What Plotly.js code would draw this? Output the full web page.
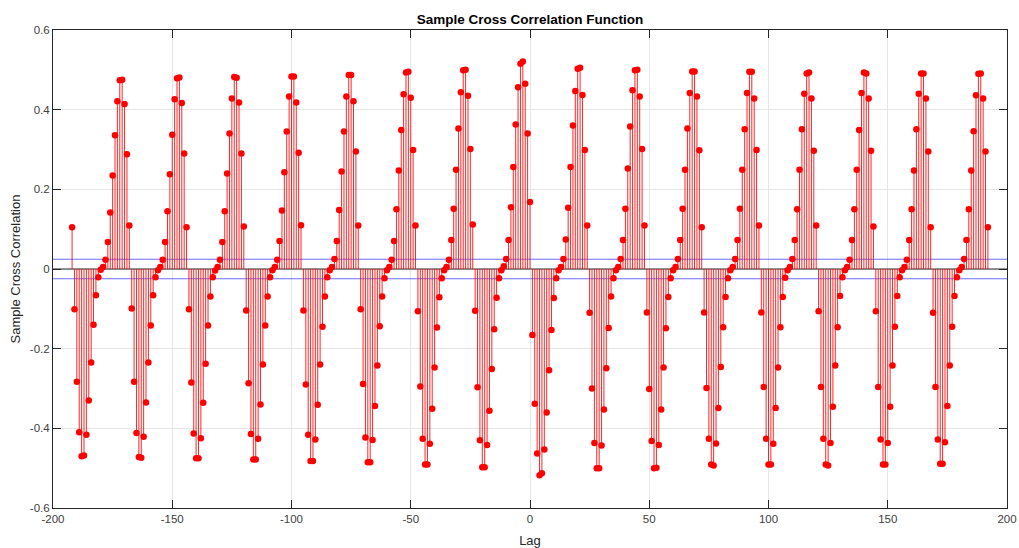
<!DOCTYPE html>
<html>
<head>
<meta charset="utf-8">
<script src="https://cdn.plot.ly/plotly-3.0.1.min.js"></script>
<style>
  html, body { margin: 0; padding: 0; background: #ffffff; }
  #chart { width: 1019px; height: 548px; }
</style>
</head>
<body>
<div id="chart"></div>
<script>
// First lag shown and the sample cross-correlation values,
// one array per 24-lag cycle (cycle A starts at lag -192).
const firstLag = -192;
const cycleA = [0.105, -0.101, -0.283, -0.410, -0.470, -0.468, -0.416, -0.330, -0.235, -0.140, -0.066, -0.021, -0.002, 0.005, 0.023, 0.068, 0.142, 0.235, 0.336, 0.421, 0.474, 0.475, 0.414, 0.288];
const cycleB = [0.109, -0.099, -0.283, -0.412, -0.472, -0.474, -0.421, -0.335, -0.235, -0.142, -0.066, -0.021, -0.003, 0.005, 0.023, 0.068, 0.145, 0.238, 0.337, 0.426, 0.479, 0.481, 0.417, 0.290];
const cycleC = [0.105, -0.101, -0.285, -0.413, -0.475, -0.475, -0.425, -0.336, -0.238, -0.142, -0.069, -0.021, -0.004, 0.005, 0.023, 0.068, 0.145, 0.240, 0.340, 0.428, 0.482, 0.480, 0.418, 0.290];
const cycleD = [0.107, -0.104, -0.287, -0.414, -0.478, -0.478, -0.426, -0.340, -0.240, -0.142, -0.069, -0.021, -0.003, 0.005, 0.023, 0.070, 0.147, 0.243, 0.345, 0.433, 0.483, 0.483, 0.418, 0.292];
const cycleE = [0.110, -0.104, -0.290, -0.416, -0.482, -0.482, -0.428, -0.341, -0.240, -0.145, -0.069, -0.021, -0.003, 0.005, 0.025, 0.070, 0.148, 0.245, 0.345, 0.433, 0.487, 0.487, 0.421, 0.295];
const cycleF = [0.109, -0.101, -0.289, -0.423, -0.485, -0.485, -0.429, -0.344, -0.242, -0.144, -0.069, -0.023, -0.003, 0.005, 0.023, 0.070, 0.150, 0.247, 0.349, 0.439, 0.493, 0.495, 0.430, 0.299];
const cycleG = [0.109, -0.106, -0.295, -0.426, -0.491, -0.491, -0.439, -0.351, -0.247, -0.147, -0.071, -0.023, -0.003, 0.005, 0.023, 0.073, 0.151, 0.249, 0.353, 0.444, 0.499, 0.500, 0.435, 0.301];
const cycleH = [0.112, -0.105, -0.297, -0.430, -0.498, -0.498, -0.442, -0.356, -0.251, -0.151, -0.072, -0.023, -0.003, 0.007, 0.025, 0.073, 0.155, 0.256, 0.363, 0.456, 0.515, 0.521, 0.465, 0.340];
const cycleI = [0.168, -0.166, -0.338, -0.463, -0.518, -0.513, -0.453, -0.360, -0.254, -0.153, -0.073, -0.023, -0.003, 0.005, 0.025, 0.074, 0.154, 0.256, 0.360, 0.447, 0.503, 0.505, 0.437, 0.299];
const cycleJ = [0.109, -0.110, -0.300, -0.437, -0.500, -0.500, -0.443, -0.353, -0.249, -0.148, -0.069, -0.023, -0.003, 0.005, 0.025, 0.073, 0.151, 0.252, 0.358, 0.449, 0.499, 0.500, 0.433, 0.301];
const cycleK = [0.109, -0.109, -0.301, -0.432, -0.500, -0.499, -0.442, -0.353, -0.247, -0.149, -0.070, -0.023, -0.003, 0.005, 0.025, 0.073, 0.151, 0.249, 0.353, 0.442, 0.496, 0.496, 0.433, 0.298];
const cycleL = [0.105, -0.109, -0.299, -0.426, -0.491, -0.493, -0.438, -0.349, -0.246, -0.146, -0.070, -0.023, -0.003, 0.005, 0.025, 0.073, 0.151, 0.249, 0.351, 0.442, 0.495, 0.495, 0.428, 0.299];
const cycleM = [0.109, -0.109, -0.296, -0.426, -0.491, -0.491, -0.439, -0.349, -0.247, -0.146, -0.070, -0.022, -0.003, 0.005, 0.025, 0.073, 0.150, 0.249, 0.351, 0.440, 0.491, 0.493, 0.428, 0.297];
const cycleN = [0.109, -0.106, -0.296, -0.426, -0.491, -0.493, -0.437, -0.346, -0.242, -0.146, -0.068, -0.021, -0.003, 0.005, 0.023, 0.073, 0.150, 0.249, 0.349, 0.442, 0.493, 0.491, 0.428, 0.297];
const cycleO = [0.107, -0.106, -0.296, -0.428, -0.491, -0.491, -0.437, -0.346, -0.242, -0.145, -0.068, -0.021, -0.003, 0.005, 0.023, 0.073, 0.150, 0.247, 0.351, 0.440, 0.491, 0.491, 0.428, 0.295];
const cycleP = [0.105, -0.110, -0.296, -0.428, -0.489, -0.489, -0.435, -0.344, -0.242, -0.145, -0.068, -0.021, -0.003, 0.005, 0.025, 0.073, 0.150, 0.247, 0.346, 0.436, 0.490, 0.491, 0.428, 0.295];
const lastValue = [0.105];

// Confidence bound level (+/-) and axis ticks
const confBound = 0.0245;
const xTickVals = [-200, -150, -100, -50, 0, 50, 100, 150, 200];
const xTickText = ['-200', '-150', '-100', '-50', '0', '50', '100', '150', '200'];
const yTickVals = [-0.6, -0.4, -0.2, 0, 0.2, 0.4, 0.6];
const yTickText = ['-0.6', '-0.4', '-0.2', '0', '0.2', '0.4', '0.6'];
const xRange = [-200, 200];
const yRange = [-0.6, 0.6];

const xcf = [].concat(cycleA, cycleB, cycleC, cycleD, cycleE, cycleF, cycleG, cycleH,
                      cycleI, cycleJ, cycleK, cycleL, cycleM, cycleN, cycleO, cycleP, lastValue);
const lags = xcf.map((_, i) => firstLag + i);

// stems
const stemX = [], stemY = [];
lags.forEach((l, i) => { stemX.push(l, l, null); stemY.push(0, xcf[i], null); });

const font = 'Liberation Sans, Arial, Helvetica, sans-serif';

const traces = [
  { x: xRange, y: [confBound, confBound], mode: 'lines', line: { color: 'rgba(60,60,255,0.75)', width: 1 }, hoverinfo: 'skip' },
  { x: xRange, y: [-confBound, -confBound], mode: 'lines', line: { color: 'rgba(60,60,255,0.75)', width: 1 }, hoverinfo: 'skip' },
  { x: xRange, y: [0, 0], mode: 'lines', line: { color: '#262626', width: 1 }, hoverinfo: 'skip' },
  { x: stemX, y: stemY, mode: 'lines', line: { color: 'rgba(255,0,0,0.85)', width: 1 }, hoverinfo: 'skip' },
  { x: lags, y: xcf, mode: 'markers', marker: { color: '#ff0000', size: 6.5, symbol: 'circle', line: { width: 0 } } }
];

const axisCommon = {
  showline: true, linecolor: '#262626', linewidth: 1, mirror: 'allticks',
  ticks: 'inside', ticklen: 8, tickcolor: '#262626', tickwidth: 1,
  showgrid: true, gridcolor: '#e6e6e6', gridwidth: 1, zeroline: false,
  tickfont: { family: font, size: 11.5, color: '#404040' }
};

const layout = {
  width: 1019, height: 548,
  margin: { l: 53, r: 12, t: 30, b: 40 },
  paper_bgcolor: '#ffffff', plot_bgcolor: '#ffffff',
  showlegend: false,
  title: { text: 'Sample Cross Correlation Function', font: { family: font, size: 13.5, color: '#000000', weight: 'bold' },
           x: 0.5, xanchor: 'center', y: 1 - 19 / 548, yanchor: 'middle', xref: 'paper', yref: 'container' },
  xaxis: Object.assign({}, axisCommon, {
    range: xRange, tickvals: xTickVals, ticktext: xTickText,
    title: { text: 'Lag', font: { family: font, size: 13, color: '#262626' }, standoff: 13 }
  }),
  yaxis: Object.assign({}, axisCommon, {
    range: yRange, tickvals: yTickVals, ticktext: yTickText,
    title: { text: 'Sample Cross Correlation', font: { family: font, size: 13, color: '#262626' }, standoff: 6 }
  })
};

Plotly.newPlot('chart', traces, layout, { staticPlot: true, displayModeBar: false });
</script>
</body>
</html>
